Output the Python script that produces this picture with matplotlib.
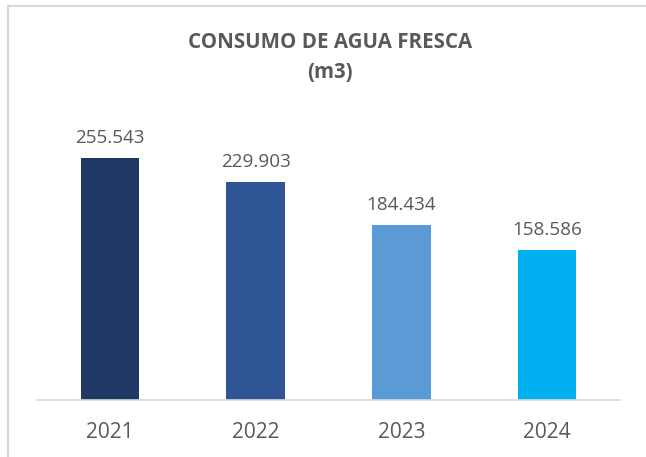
import matplotlib.pyplot as plt
from matplotlib.patches import Rectangle

years = ["2021", "2022", "2023", "2024"]
consumo = [255543, 229903, 184434, 158586]
etiquetas = ["255.543", "229.903", "184.434", "158.586"]
colores = ["#1F3864", "#2F5597", "#5B9BD5", "#00B0F0"]

plt.rcParams["font.family"] = ["Open Sans", "DejaVu Sans"]
gris = "#595959"

fig = plt.figure(figsize=(6.46, 4.57), dpi=100)
ax = fig.add_axes([37 / 646, 1 - 400 / 457, 583 / 646, 284 / 457])

x = range(len(years))
bars = ax.bar(x, consumo, width=0.40, color=colores, zorder=2)
for b, txt in zip(bars, etiquetas):
    ax.annotate(txt, (b.get_x() + b.get_width() / 2, b.get_height()),
                xytext=(0, 8), textcoords="offset points",
                ha="center", va="bottom", fontsize=13.6, color=gris)

ax.set_xlim(-0.5, 3.5)
ax.set_ylim(0, 300000)
ax.set_xticks(list(x))
ax.set_xticklabels(years, fontsize=15, color=gris)
ax.tick_params(axis="x", length=0, pad=16)
ax.set_yticks([])
for s in ["top", "right", "left"]:
    ax.spines[s].set_visible(False)
ax.spines["bottom"].set_color("#D9D9D9")
ax.spines["bottom"].set_linewidth(1.2)

fig.text(330 / 646, 1 - 43 / 457, "CONSUMO DE AGUA FRESCA", ha="center", va="center",
         fontsize=14.8, fontweight="bold", color=gris)
fig.text(330 / 646, 1 - 73 / 457, "(m3)", ha="center", va="center",
         fontsize=14.8, fontweight="bold", color=gris)

# marco gris del gráfico (solo se ven los bordes superior e izquierdo)
fig.patches.append(Rectangle((7.5 / 646, -0.1), 1.2, 1 - 6 / 457 + 0.1,
                             transform=fig.transFigure, fill=False,
                             edgecolor="#D9D9D9", linewidth=1.5))

fig.savefig("out.png", dpi=100)
